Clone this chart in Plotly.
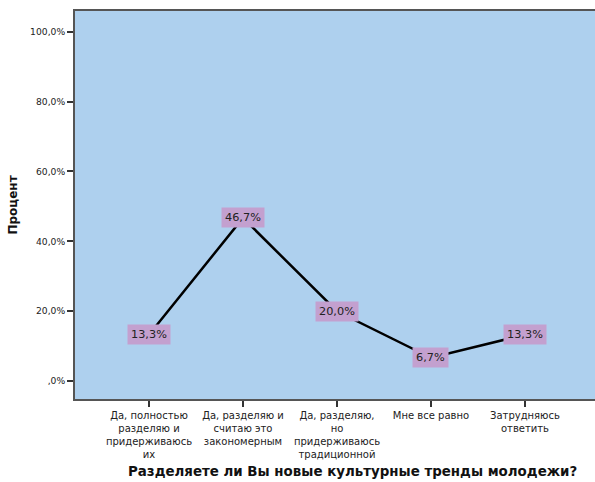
import plotly.graph_objects as go

# Survey answers and share of respondents (percent)
categories = [
    "Да, полностью разделяю и придерживаюсь их",
    "Да, разделяю и считаю это закономерным",
    "Да, разделяю, но придерживаюсь традиционной",
    "Мне все равно",
    "Затрудняюсь ответить",
]
category_labels = [
    "Да, полностью<br>разделяю и<br>придерживаюсь<br>их",
    "Да, разделяю и<br>считаю это<br>закономерным",
    "Да, разделяю,<br>но<br>придерживаюсь<br>традиционной",
    "Мне все равно",
    "Затрудняюсь<br>ответить",
]
percent = [13.3, 46.7, 20.0, 6.7, 13.3]

y_ticks = [0, 20, 40, 60, 80, 100]
y_tick_labels = [",0%", "20,0%", "40,0%", "60,0%", "80,0%", "100,0%"]

x_title = "Разделяете ли Вы новые культурные тренды молодежи?"
y_title = "Процент"

FONT = "DejaVu Sans, Verdana, sans-serif"
x_pos = list(range(len(categories)))

fig = go.Figure()
fig.add_trace(go.Scatter(
    x=x_pos, y=percent, mode="lines",
    line=dict(color="black", width=2.5),
    hoverinfo="skip", showlegend=False,
))

# Value labels centred on each point
for xi, v in zip(x_pos, percent):
    fig.add_annotation(
        x=xi, y=v, text=f"{v:.1f}%".replace(".", ","),
        showarrow=False, xanchor="center", yanchor="middle",
        bgcolor="#c3a0cf", borderpad=3,
        font=dict(family=FONT, size=11.3, color="#222222"),
    )

# Category axis title, placed below the tick labels
fig.add_annotation(
    xref="paper", yref="paper", x=0.533, y=-0.188,
    xanchor="center", yanchor="middle", showarrow=False,
    text=f"<b>{x_title}</b>",
    font=dict(family=FONT, size=13.4, color="#111111"),
)

fig.update_layout(
    width=595, height=482,
    margin=dict(l=75, r=0, t=11, b=83),
    paper_bgcolor="white", plot_bgcolor="#aed0ee",
    font=dict(family=FONT, size=10, color="#222222"),
    xaxis=dict(
        range=[-0.787, 4.745],
        tickvals=x_pos, ticktext=category_labels,
        ticks="outside", ticklen=6, tickwidth=1.5, tickcolor="#333333",
        showline=True, linecolor="#555555", linewidth=2, mirror=True,
        showgrid=False, zeroline=False,
        tickfont=dict(family=FONT, size=10, color="#222222"),
    ),
    yaxis=dict(
        range=[-5.1, 105.9],
        tickvals=y_ticks, ticktext=y_tick_labels,
        ticks="outside", ticklen=6, tickwidth=1.5, tickcolor="#333333",
        showline=True, linecolor="#555555", linewidth=2,
        showgrid=False, zeroline=False,
        tickfont=dict(family=FONT, size=9.2, color="#222222"),
        title=dict(text=f"<b>{y_title}</b>",
                   font=dict(family=FONT, size=12, color="#111111"), standoff=10),
    ),
)

fig.write_html("out.html")
